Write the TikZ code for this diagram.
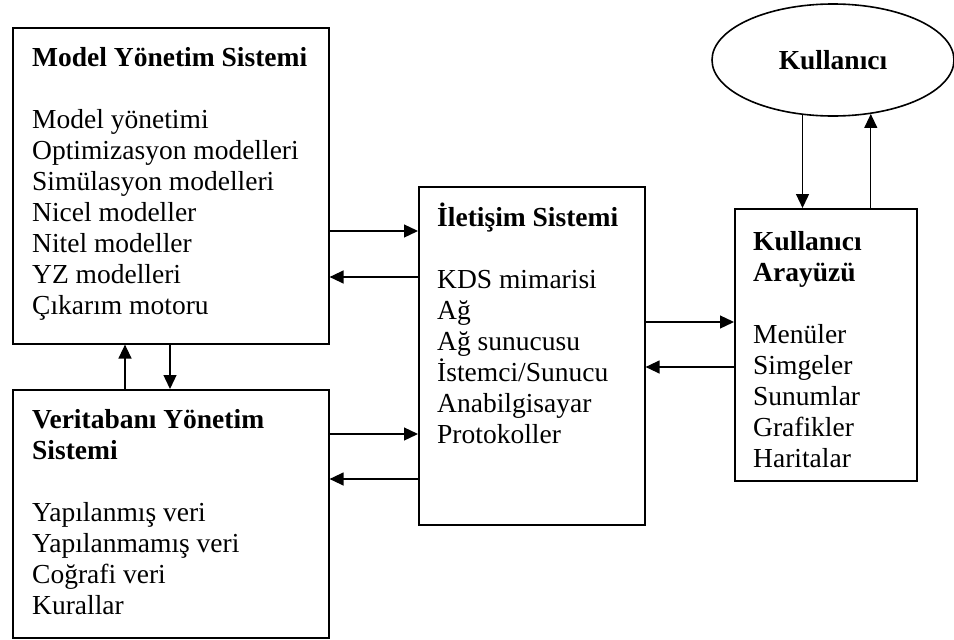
\documentclass[tikz,border=0pt]{standalone}
\usepackage{fontspec}
\setmainfont{Liberation Serif}
\usetikzlibrary{arrows.meta,shapes.geometric}
\begin{document}
\begin{tikzpicture}[x=1pt,y=-1pt,
  box/.style={draw,line width=1.6pt,rectangle,inner sep=0pt,anchor=north west},
  txt/.style={anchor=base west,inner sep=0pt,font=\fontsize{27.5}{31}\selectfont},
  ttl/.style={txt,font=\fontsize{27.5}{31}\selectfont\bfseries},
  arr/.style={line width=1.3pt,-{Triangle[length=14pt,width=13pt]}}]
\useasboundingbox (0,0) rectangle (954,640);
% boxes
\node[box,minimum width=316pt,minimum height=316pt] (mys) at (12,27) {};
\node[box,minimum width=316pt,minimum height=248pt] (vys) at (12,389) {};
\node[box,minimum width=226pt,minimum height=338pt] (ils) at (418,186) {};
\node[box,minimum width=182pt,minimum height=272pt] (kau) at (734,208) {};
\node[draw,ellipse,line width=1.6pt,minimum width=242pt,minimum height=112pt,inner sep=0pt,
      font=\fontsize{27.5}{31}\selectfont\bfseries] (usr) at (833,60) {Kullanıcı};
% texts: Model Yönetim Sistemi
\node[ttl] (mt) at (32,66) {Model Yönetim Sistemi};
\foreach \t [count=\i] in {Model yönetimi,Optimizasyon modelleri,Simülasyon modelleri,Nicel modeller,Nitel modeller,YZ modelleri,Çıkarım motoru}
  \node[txt] (m\i) at (32,{128+31*(\i-1)}) {\t};
% Veritabanı Yönetim Sistemi
\node[ttl] (vt1) at (32,428) {Veritabanı Yönetim};
\node[ttl] (vt2) at (32,459) {Sistemi};
\foreach \t [count=\i] in {Yapılanmış veri,Yapılanmamış veri,Coğrafi veri,Kurallar}
  \node[txt] (v\i) at (32,{521+31*(\i-1)}) {\t};
% İletişim Sistemi
\node[ttl] (it) at (437,226) {İletişim Sistemi};
\foreach \t [count=\i] in {KDS mimarisi,Ağ,Ağ sunucusu,İstemci/Sunucu,Anabilgisayar,Protokoller}
  \node[txt] (i\i) at (437,{288+31*(\i-1)}) {\t};
% Kullanıcı Arayüzü
\node[ttl] (kt1) at (753,250) {Kullanıcı};
\node[ttl] (kt2) at (753,281) {Arayüzü};
\foreach \t [count=\i] in {Menüler,Simgeler,Sunumlar,Grafikler,Haritalar}
  \node[txt] (k\i) at (753,{343+31*(\i-1)}) {\t};
% connectors: model <-> iletisim
\draw[arr] ([yshift=-204pt]mys.north east) coordinate (a1) -- (a1 -| ils.west);
\draw[arr] ([yshift=-250pt]mys.north east -| ils.west) coordinate (a2) -- (a2 -| mys.east);
% db <-> iletisim
\draw[arr] ([yshift=-45pt]vys.north east) coordinate (a3) -- (a3 -| ils.west);
\draw[arr] ([yshift=-90pt]vys.north east -| ils.west) coordinate (a4) -- (a4 -| vys.east);
% iletisim <-> arayuz
\draw[arr] ([yshift=-136pt]ils.north east) coordinate (a5) -- (a5 -| kau.west);
\draw[arr] ([yshift=-181pt]ils.north east -| kau.west) coordinate (a6) -- (a6 -| ils.east);
% model <-> db
\draw[arr] ([xshift=113pt]vys.north west) coordinate (b1) -- (b1 |- mys.south);
\draw[arr] ([xshift=158pt]mys.south west) coordinate (b2) -- (b2 |- vys.north);
% user <-> arayuz
\draw[arr] (usr.241) -- (usr.241 |- kau.north);
\draw[arr] (usr.305 |- kau.north) -- (usr.305);
\end{tikzpicture}
\end{document}
